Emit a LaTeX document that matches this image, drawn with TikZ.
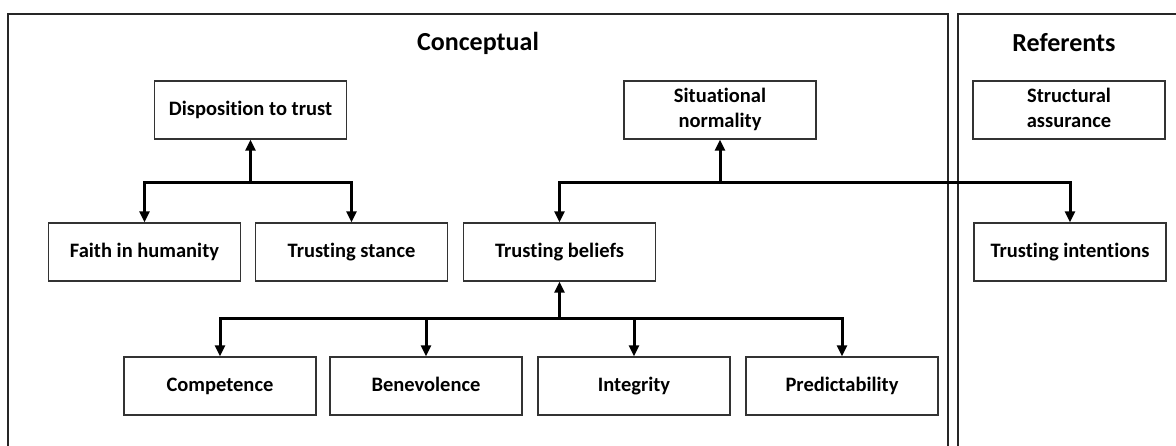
\documentclass[tikz,border=0pt]{standalone}
\usepackage{fontspec}
\setmainfont{Carlito}[RawFeature={-liga,-clig,-dlig,-calt}]
\usetikzlibrary{arrows.meta}
% fixed-height strut so that all box labels share one baseline
\newcommand\boxstrut{\rule[-4pt]{0pt}{19pt}}
\begin{document}
\begin{tikzpicture}[x=1pt,y=-1pt,
  panel/.style={line width=1.6pt, draw=black!85},
  concept/.style={draw=black!80, line width=1.4pt, fill=white,
    minimum width=192pt, minimum height=58pt, inner sep=2pt, align=center,
    font=\fontsize{20.5}{24.5}\selectfont\bfseries,
    execute at begin node=\boxstrut, execute at end node=\boxstrut},
  heading/.style={font=\fontsize{26}{30}\selectfont\bfseries},
  link/.style={line width=3pt, draw=black},
  arr/.style={link, -{Triangle[length=11pt,width=10pt]}}]
\clip (0,0) rectangle (1176,445);
\fill[white] (0,0) rectangle (1176,445);

% panels
\draw[panel] (8,460) -- (8,14) -- (948,14) -- (948,460);
\draw[panel] (958,460) -- (958,14) -- (1190,14);

% headings
\node[heading] (hconc) at (478,43) {Conceptual};
\node[heading] (href) at (1064,43) {Referents};

% top row
\node[concept] (disp) at (250.5,110) {Disposition to trust};
\node[concept] (sitn) at (720,110) {Situational\\normality};
\node[concept] (stra) at (1069,110) {Structural\\assurance};

% middle row
\node[concept] (faith) at (144.5,252) {Faith in humanity};
\node[concept] (stance) at (351.5,252) {Trusting stance};
\node[concept] (beliefs) at (559.5,252) {Trusting beliefs};
\node[concept] (intent) at (1070,252) {Trusting intentions};

% bottom row
\node[concept] (comp) at (220,386) {Competence};
\node[concept] (bene) at (426,386) {Benevolence};
\node[concept] (integ) at (634,386) {Integrity};
\node[concept] (pred) at (842,386) {Predictability};

% junction points on the bars
\coordinate (jA) at (disp.south |- 0,182);
\coordinate (jB) at (sitn.south |- 0,182);
\coordinate (jC) at (beliefs.south |- 0,318);

% disposition to trust
\draw[arr] (jA) -- (disp.south);
\draw[arr] (jA) -| (faith.north);
\draw[arr] (jA) -| (stance.north);

% situational normality
\draw[arr] (jB) -- (sitn.south);
\draw[arr] (jB) -| (beliefs.north);
\draw[arr] (jB) -| (intent.north);

% trusting beliefs
\draw[arr] (jC) -- (beliefs.south);
\draw[arr] (jC) -| (comp.north);
\draw[arr] (jC) -| (bene.north);
\draw[arr] (jC) -| (integ.north);
\draw[arr] (jC) -| (pred.north);
\end{tikzpicture}
\end{document}
